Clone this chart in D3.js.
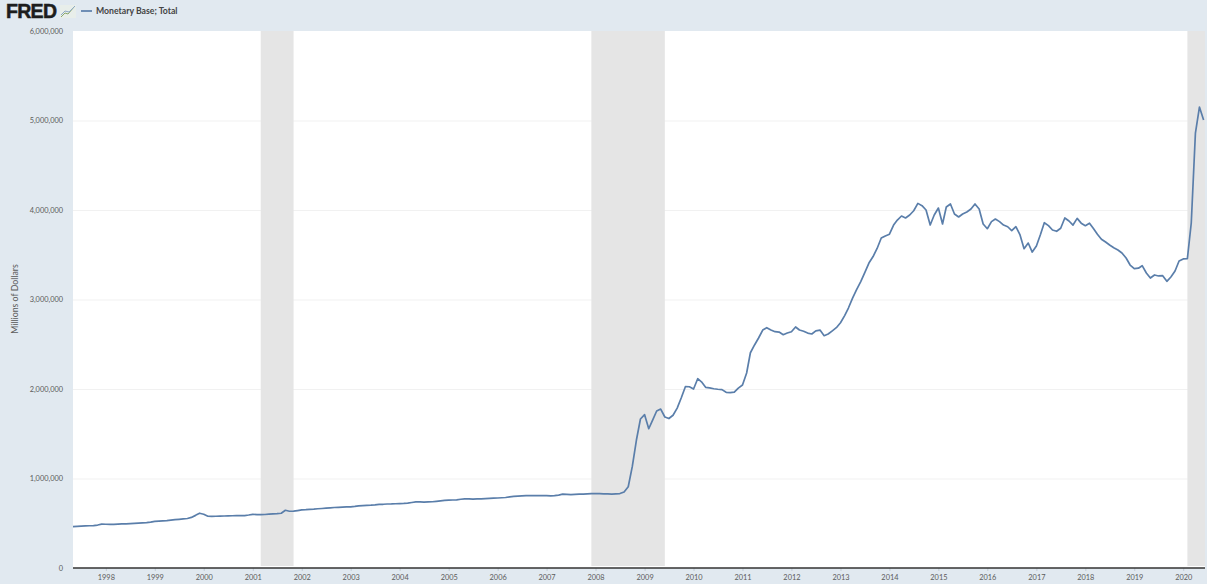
<!DOCTYPE html>
<html>
<head>
<meta charset="utf-8">
<script src="https://cdn.jsdelivr.net/npm/d3@7"></script>
<style>
html,body{margin:0;padding:0;background:#e1e9f0;overflow:hidden}
svg{display:block}
text{font-family:Lato,"Open Sans",sans-serif}
</style>
</head>
<body>
<svg id="chart" width="1207" height="584"></svg>
<script>
const seriesName = "Monetary Base; Total";
const yTitle = "Millions of Dollars";
const startMonth = [1997, 4]; // May 1997, monthly observations
const monetaryBase = [
  462,465,468,470,472,474,480,490,
  489,487,488,490,492,494,496,499,502,505,508,512,
  520,523,526,530,535,540,544,548,553,565,588,612,
  600,578,576,578,580,581,583,584,585,585,586,592,
  600,597,596,598,601,604,607,612,645,634,635,642,
  650,652,655,658,662,665,668,672,676,678,680,682,
  683,688,695,698,700,702,705,710,712,715,716,718,
  720,722,725,732,738,738,736,738,740,745,750,755,
  758,760,762,768,772,772,770,772,773,775,778,780,
  782,785,788,795,800,803,805,808,808,810,808,808,
  808,806,808,815,825,822,820,822,825,826,828,830,
  832,830,828,828,826,829,832,850,908,1132,1430,1665,
  1713,1556,1650,1754,1776,1687,1670,1707,1787,1900,2026,2025,
  2000,2115,2080,2019,2012,2003,1997,1993,1963,1960,1965,2010,
  2045,2179,2405,2492,2570,2659,2685,2659,2640,2636,2607,2625,
  2640,2693,2659,2645,2625,2615,2650,2658,2596,2615,2650,2685,
  2740,2820,2905,3015,3110,3200,3300,3407,3480,3570,3687,3710,
  3730,3832,3888,3933,3911,3944,3992,4074,4048,4000,3832,3944,
  4022,3844,4033,4067,3955,3922,3955,3978,4011,4067,4011,3844,
  3791,3870,3899,3870,3832,3813,3769,3813,3721,3568,3631,3530,
  3598,3729,3858,3825,3777,3762,3796,3911,3877,3832,3906,3853,
  3825,3853,3796,3729,3673,3642,3609,3579,3553,3520,3464,3385,
  3344,3350,3378,3296,3240,3274,3263,3266,3203,3251,3318,3430,
  3453,3456,3855,4860,5150,5005
];
const recessionStarts = ["2001-03-01","2007-12-01","2020-02-01"];
const recessionEnds   = ["2001-11-01","2009-06-01","2020-06-01"];
const yTicks = [0,1000000,2000000,3000000,4000000,5000000,6000000];
const xTickYears = d3.range(1998,2021);

const dates = monetaryBase.map((_,i)=>new Date(startMonth[0],startMonth[1]+i,1));
const data = monetaryBase.map((v,i)=>({date:dates[i],value:v*1000}));
const parse = d3.timeParse("%Y-%m-%d");

const plotL=73,plotR=1203.6,plotT=31,plotB=568;
const svg=d3.select("#chart");
const x=d3.scaleTime().domain(d3.extent(dates)).range([plotL,plotR]);
const y=d3.scaleLinear().domain([0,6000000]).range([plotB,plotT]);

svg.append("rect").attr("x",plotL).attr("y",plotT).attr("width",plotR-plotL+1.4).attr("height",plotB-plotT).attr("fill","#fff");

svg.append("g").selectAll("line").data(yTicks.slice(1,-1)).join("line")
  .attr("x1",plotL).attr("x2",plotR+1.4).attr("y1",d=>y(d)+.5).attr("y2",d=>y(d)+.5)
  .attr("stroke","#f1f1f1").attr("stroke-width",1);

svg.append("g").selectAll("rect").data(recessionStarts).join("rect")
  .attr("x",d=>x(parse(d)))
  .attr("width",(d,i)=>x(parse(recessionEnds[i]))-x(parse(d))+(i===2?1.4:0))
  .attr("y",plotT).attr("height",plotB-2-plotT).attr("fill","#e5e5e5");

const yAxis=d3.axisLeft(y).tickValues(yTicks).tickFormat(d3.format(",")).tickSize(0).tickPadding(10);
const gy=svg.append("g").attr("transform",`translate(${plotL},0)`).call(yAxis);
gy.select(".domain").remove();
gy.selectAll("text").attr("fill","#5c5c5c").style("font-size","7.4px").style("font-family","Lato,sans-serif");

const xAxis=d3.axisBottom(x).tickValues(xTickYears.map(yr=>new Date(yr,0,1))).tickFormat(d3.timeFormat("%Y")).tickSize(3).tickPadding(4);
const gx=svg.append("g").attr("transform",`translate(0,${plotB})`).call(xAxis);
gx.select(".domain").remove();
gx.selectAll("line").attr("stroke","#c3ccd5");
gx.selectAll("text").attr("fill","#5c5c5c").style("font-size","7.4px").style("font-family","Lato,sans-serif");

svg.append("line").attr("x1",plotL).attr("x2",plotR+1.4).attr("y1",plotB).attr("y2",plotB)
  .attr("stroke","#333").attr("stroke-width",1.6);

svg.append("path").datum(data)
  .attr("d",d3.line().x(d=>x(d.date)).y(d=>y(d.value)))
  .attr("fill","none").attr("stroke","#5a7eaa").attr("stroke-width",1.7).attr("stroke-linejoin","round");

svg.append("text").attr("transform","translate(18,299) rotate(-90)").attr("text-anchor","middle")
  .attr("fill","#5c5c5c").style("font-size","8.8px").text(yTitle);

// header: logo and legend
svg.append("text").attr("x",6).attr("y",18).attr("fill","#1d1d1d")
  .style("font-family","'Liberation Sans',sans-serif").style("font-size","19.5px").style("font-weight",700)
  .attr("stroke","#1d1d1d").attr("stroke-width",.5).attr("textLength",51).text("FRED");
svg.append("rect").attr("x",60).attr("y",5).attr("width",16).attr("height",13).attr("fill","#e8eeea");
svg.append("path").attr("d","M61,17 L65,13 L68,14 L74,7").attr("fill","none").attr("stroke","#8aa86e").attr("stroke-width",1);
svg.append("path").attr("d","M61,15 L65,11 L69,12 L75,6").attr("fill","none").attr("stroke","#8ea9c4").attr("stroke-width",1);
svg.append("line").attr("x1",81).attr("x2",92).attr("y1",11).attr("y2",11).attr("stroke","#5a7eaa").attr("stroke-width",1.7);
svg.append("text").attr("x",96).attr("y",14).attr("fill","#444").style("font-size","8.7px").style("font-weight",700).text(seriesName);
</script>
</body>
</html>
